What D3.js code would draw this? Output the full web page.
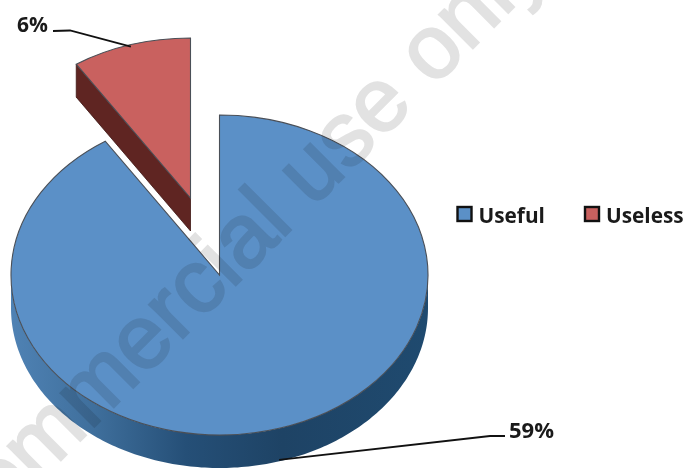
<!DOCTYPE html>
<html>
<head>
<meta charset="utf-8">
<script src="https://cdn.jsdelivr.net/npm/d3@7"></script>
<style>
  html, body { margin: 0; padding: 0; background: #fff; }
  svg { display: block; }
  text { font-family: "Open Sans", sans-serif; font-weight: 700; fill: #1a1a1a; }
</style>
</head>
<body>
<svg id="chart" width="686" height="468"></svg>
<script>
// Survey answers and their printed shares
const categories = ["Useful", "Useless"];
const shares = [59, 6];
const shareLabels = ["59%", "6%"];
const sliceColors = ["#5b90c7", "#c9615f"];
const sideColors = ["#244f76", "#5f2522"];

// Tilted pie geometry
const cx = 219.5, cy = 275, rx = 208.5, ry = 160, depth = 33;
const explode = { dx: -29, dy: -77 };

const svg = d3.select("#chart");
const defs = svg.append("defs");

// The rim brightens towards the left, where the light falls on it
const rim = defs.append("linearGradient")
  .attr("id", "rimBlue")
  .attr("gradientUnits", "userSpaceOnUse")
  .attr("x1", cx - rx).attr("x2", cx + rx).attr("y1", 0).attr("y2", 0);
[[0, "#4f82b4"], [0.2, "#3f6f9c"], [0.42, "#254f77"], [0.65, "#1e4365"], [1, "#1f4a6f"]]
  .forEach(([o, c]) => rim.append("stop").attr("offset", o).attr("stop-color", c));

const pie = d3.pie().sort(null).startAngle(0).endAngle(2 * Math.PI);
const slices = pie(shares);
const arc = d3.arc().innerRadius(0).outerRadius(rx);

// Projects a clock angle on the tilted disc to page coordinates
const project = (a, ox = 0, oy = 0) => [cx + ox + rx * Math.sin(a), cy + oy - ry * Math.cos(a)];
const line = d3.line();

// Outer wall of the large slice: lower half of the disc pushed down by the depth
const lower = d3.range(90, 270.5, 1).map(d => d * Math.PI / 180);
const wall = lower.map(a => project(a)).concat(lower.slice().reverse().map(a => project(a, 0, depth)));
svg.append("path")
  .attr("d", line(wall) + "Z")
  .attr("fill", "url(#rimBlue)");

// Flat top of a slice, drawn as a circular arc and squashed into the ellipse
function drawTop(slice, i, ox, oy) {
  svg.append("path")
    .attr("d", arc(slice))
    .attr("transform", `translate(${cx + ox},${cy + oy}) scale(1,${ry / rx})`)
    .attr("fill", sliceColors[i])
    .attr("stroke", "#4a4f57")
    .attr("stroke-width", 1.1)
    .style("vector-effect", "non-scaling-stroke");
}
drawTop(slices[0], 0, 0, 0);

// Exposed cut face of the pulled-out slice
const apex = [cx + explode.dx, cy + explode.dy];
const corner = project(slices[1].startAngle, explode.dx, explode.dy);
svg.append("path")
  .attr("d", line([apex, corner, [corner[0], corner[1] + depth], [apex[0], apex[1] + depth]]) + "Z")
  .attr("fill", sideColors[1])
  .attr("stroke", "#3d1614")
  .attr("stroke-width", 0.8);
drawTop(slices[1], 1, explode.dx, explode.dy);

// Leader lines start at the middle of each slice's arc
const mid = s => (s.startAngle + s.endAngle) / 2;
const leader = pts => svg.append("path")
  .attr("d", line(pts)).attr("fill", "none")
  .attr("stroke", "#111").attr("stroke-width", 1.8);

const anchorBlue = project(mid(slices[0]), 0, depth - 1.5);
leader([anchorBlue, [490, 436], [505, 436]]);
const anchorRed = project(mid(slices[1]), explode.dx, explode.dy + 2);
leader([anchorRed, [70, 30.5], [53, 31]]);

svg.append("text").attr("x", 509).attr("y", 438).attr("font-size", 22).text(shareLabels[0]);
svg.append("text").attr("x", 17).attr("y", 32).attr("font-size", 21).text(shareLabels[1]);

// Legend
const legendX = d3.scaleOrdinal().domain(categories).range([457.5, 585]);
categories.forEach((c, i) => {
  const x = legendX(c);
  svg.append("rect")
    .attr("x", x).attr("y", 207).attr("width", 14).attr("height", 14)
    .attr("fill", sliceColors[i]).attr("stroke", "#111").attr("stroke-width", 2.4);
  svg.append("text").attr("x", x + 21).attr("y", 223).attr("font-size", 20.8).text(c);
});

// Diagonal usage notice printed across the whole figure
svg.append("text")
  .attr("transform", "translate(260.5,260.5) rotate(-45)")
  .attr("x", -411).attr("y", 0)
  .style("font-family", "'Liberation Sans', Arial, sans-serif")
  .style("font-weight", 400)
  .style("font-size", "90px")
  .style("fill", "#e2e2e2")
  .style("stroke", "#e2e2e2")
  .style("stroke-width", 2.2)
  .style("paint-order", "stroke")
  .style("mix-blend-mode", "multiply")
  .text("commercial use only");
</script>
</body>
</html>
